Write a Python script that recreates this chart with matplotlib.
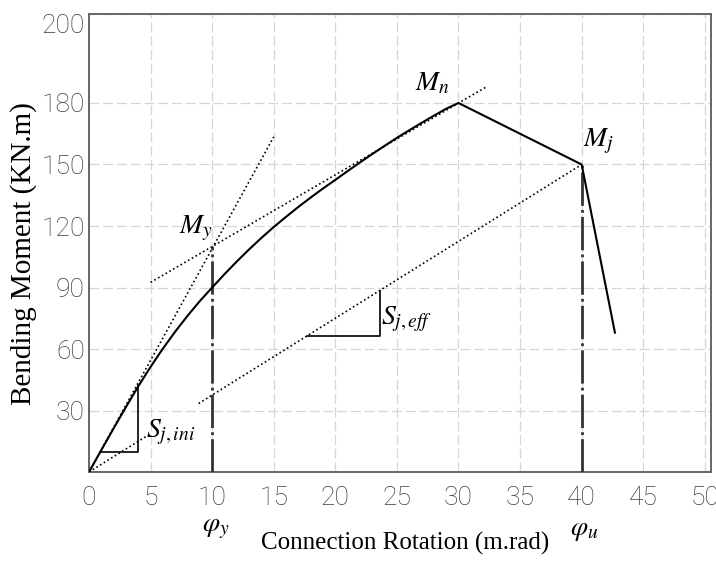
import matplotlib
matplotlib.use("Agg")
import matplotlib.pyplot as plt

# moment-rotation curve of the connection (m.rad, KN.m)
rot = [0, 1, 2, 3, 4, 5, 6, 7, 8, 9, 10, 11, 12, 13, 14, 15, 16, 17, 18, 19, 20,
       21, 22, 23, 24, 25, 26, 27, 28, 29, 30, 40, 42.7]
moment = [0, 10.7, 21.3, 31.7, 41.8, 51.3, 60.2, 68.5, 76.2, 83.4, 90, 96.5, 102.7,
          108.6, 114.2, 119.5, 124.5, 129.3, 133.9, 138.3, 142.5, 146.8, 151, 155.1,
          159.1, 163, 166.7, 170.3, 173.8, 177.2, 180, 150, 68]

# construction lines
ini_x, ini_y = [0, 15], [0, 163.5]            # initial stiffness
yld_x, yld_y = [5, 32.3], [92.5, 188]          # post-yield tangent through My and Mn
eff1_x, eff1_y = [0, 4.7], [0, 17.6]           # effective stiffness (two pieces)
eff2_x, eff2_y = [8.9, 40], [33.4, 150]

tri_ini_x, tri_ini_y = [0.9, 4, 4], [10, 10, 42]
tri_eff_x, tri_eff_y = [17.7, 23.6, 23.6], [66.4, 66.4, 88.5]

phi_y, m_y = 10, 110
phi_u, m_j = 40, 150

xticks = [0, 5, 10, 15, 20, 25, 30, 35, 40, 45, 50]
yticks = [30, 60, 90, 120, 150, 180]
ytop = 223.4

plt.rcParams['mathtext.fontset'] = 'stix'

fig = plt.figure(figsize=(7.16, 5.63), dpi=100)
ax = fig.add_axes([0.1243, 0.1616, 0.8687, 0.8135])

ax.set_xlim(0, 50.5)
ax.set_ylim(0, ytop)
ax.set_xticks(xticks)
ax.set_yticks(yticks + [ytop])
ax.set_yticklabels([str(v) for v in yticks] + ['200'])
ax.get_yticklabels()[-1].set_va('top')
ax.tick_params(length=0, labelsize=19, colors='#3c3c3c', labelcolor='#3c3c3c')
ax.tick_params(axis='x', pad=10)
ax.tick_params(axis='y', pad=3)
for lab in ax.get_xticklabels() + ax.get_yticklabels():
    lab.set_family('Roboto')
    lab.set_fontweight('light')
ax.grid(True, color='#d6d6d6', linestyle=(0, (8, 3)), lw=0.9)
ax.set_axisbelow(True)
for s in ax.spines.values():
    s.set_color('#666666')
    s.set_linewidth(1.4)

# curve
ax.plot(rot, moment, color='black', lw=1.5, zorder=4)

# dotted construction lines
for xs, ys in [(ini_x, ini_y), (yld_x, yld_y), (eff1_x, eff1_y), (eff2_x, eff2_y)]:
    ax.plot(xs, ys, color='black', lw=1.2, linestyle=(0, (1, 1.6)), zorder=3)

ax.plot(tri_ini_x, tri_ini_y, color='black', lw=1.2, zorder=3)
ax.plot(tri_eff_x, tri_eff_y, color='black', lw=1.2, zorder=3)

# dash-dot rotation markers
for px, pm in [(phi_y, m_y), (phi_u, m_j)]:
    ax.plot([px, px], [0, pm], color='#333333', lw=2, linestyle=(0, (12, 1.5, 1, 1.5)),
            zorder=3)

fs = 20
ax.text(7.3, 116.6, r'$M_y$', fontsize=fs)
ax.text(26.5, 186, r'$M_n$', fontsize=fs)
ax.text(40.1, 158.7, r'$M_j$', fontsize=fs)
ax.text(4.6, 17, r'$S_{j,ini}$', fontsize=fs)
ax.text(23.7, 72, r'$S_{j,eff}$', fontsize=fs)
ax.text(10.3, -27, r'$\varphi_y$', fontsize=fs, ha='center', va='center', clip_on=False)
ax.text(40.2, -28, r'$\varphi_u$', fontsize=fs, ha='center', va='center', clip_on=False)

ax.set_xlabel('Connection Rotation (m.rad)', fontsize=18, family='Liberation Serif')
ax.set_ylabel('Bending Moment (KN.m)', fontsize=21, family='Liberation Serif')
ax.xaxis.set_label_coords(0.508, -0.155)
ax.xaxis.label.set_va('center')
ax.yaxis.set_label_coords(-0.105, 0.476)
ax.yaxis.label.set_va('center')

fig.savefig('out.png', dpi=100)
